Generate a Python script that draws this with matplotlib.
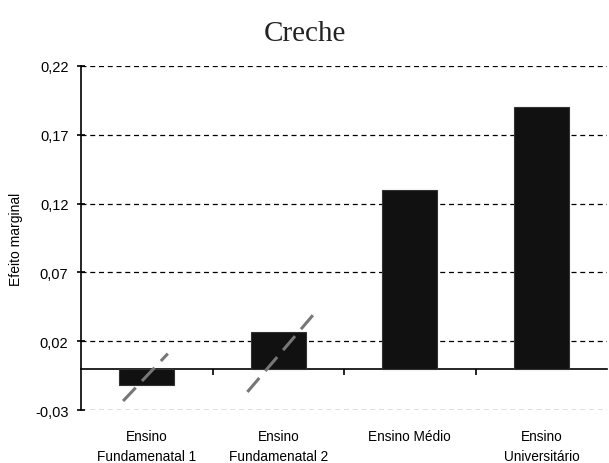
import matplotlib
matplotlib.use("Agg")
import matplotlib.pyplot as plt
import matplotlib.transforms as mtransforms

categorias = ["Ensino\nFundamenatal 1", "Ensino\nFundamenatal 2", "Ensino Médio", "Ensino\nUniversitário"]
efeitos = [-0.012, 0.027, 0.13, 0.19]
yticks = [-0.03, 0.02, 0.07, 0.12, 0.17, 0.22]

# linhas tracejadas cinzas (intervalos) sobre as duas primeiras barras
ic_x = [[-0.18, 0.16], [0.765, 1.295]]
ic_y = [[-0.0234, 0.011], [-0.0168, 0.0425]]

fig = plt.figure(figsize=(6.09, 4.64), dpi=100)
ax = fig.add_axes([0.133, 0.114, 0.864, 0.742])

x = list(range(len(categorias)))
ax.bar(x, efeitos, width=0.42, color="#111111", edgecolor="#333333", linewidth=0.8, zorder=3)

for xs, ys in zip(ic_x, ic_y):
    ax.plot(xs, ys, color="#777777", lw=2.2, linestyle=(0, (6, 3)), zorder=4)

ax.set_xlim(-0.5, len(categorias) - 0.5)
ax.set_ylim(-0.03, 0.22)
ax.set_yticks(yticks)
ax.set_yticklabels([f"{v:.2f}".replace(".", ",") for v in yticks], fontsize=10.5,
                   family="Liberation Sans")
ax.yaxis.grid(True, color="black", linestyle=(0, (4, 3)), linewidth=0.9)
ax.set_axisbelow(True)

for s in ["top", "right"]:
    ax.spines[s].set_visible(False)
ax.spines["bottom"].set_position(("data", 0))
ax.spines["left"].set_linewidth(1.2)
ax.spines["bottom"].set_linewidth(1.2)
ax.tick_params(axis="y", direction="inout", length=6, width=1.2, pad=6)
ax.set_xticks([0.5, 1.5, 2.5])
ax.set_xticklabels([])
ax.tick_params(axis="x", direction="out", length=4, width=1.2)

trans = mtransforms.blended_transform_factory(ax.transData, ax.transAxes)
for i, lab in enumerate(categorias):
    ax.text(i, -0.054, lab, transform=trans, ha="center", va="top", fontsize=9.8,
            family="Liberation Sans", linespacing=1.6)

ax.set_ylabel("Efeito marginal", fontsize=10, family="Liberation Sans")
ax.yaxis.set_label_coords(-0.111, 0.5)
fig.text(0.5, 0.926, "Creche", ha="center", va="center", fontsize=21, family="Liberation Serif",
         color="#222222")

fig.savefig("out.png", dpi=100)
